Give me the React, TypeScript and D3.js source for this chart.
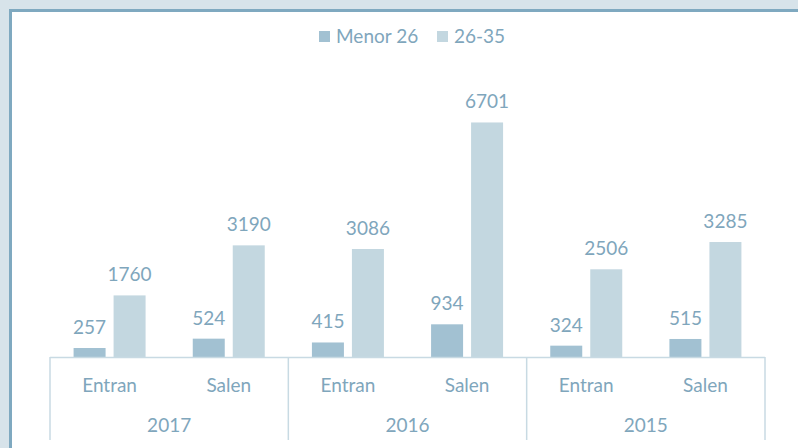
import { useEffect, useRef } from "react";
import * as d3 from "d3";

const years = ["2017", "2016", "2015"];
const flows = ["Entran", "Salen"];
const seriesNames = ["Menor 26", "26-35"];
const menor26 = [257, 524, 415, 934, 324, 515];
const age26to35 = [1760, 3190, 3086, 6701, 2506, 3285];

export default function App() {
  const ref = useRef<SVGSVGElement>(null);

  useEffect(() => {
    if (!ref.current) return;
    const svg = d3.select(ref.current);
    svg.selectAll("*").remove();

    const width = 798;
    const height = 448;
    const font = "Lato, 'Open Sans', sans-serif";
    const fontSize = "19px";
    const textColor = "#7fa6bc";
    const lineColor = "#c8dae3";
    const colors = ["#a2c1d2", "#c3d7e0"];

    // frame
    svg.append("rect").attr("width", width).attr("height", height).attr("fill", "#d7e3ea");
    svg.append("rect").attr("x", 9).attr("y", 9).attr("width", width).attr("height", height).attr("fill", "#7fa9c0");
    svg.append("rect").attr("x", 12).attr("y", 12).attr("width", width).attr("height", height).attr("fill", "#fff");

    const cats = years.flatMap((yr) => flows.map((f) => `${yr}|${f}`));
    const data = cats.map((c, i) => ({ key: c, values: [menor26[i], age26to35[i]] }));

    const left = 50;
    const right = 765;
    const base = 357;

    const x = d3.scaleBand().domain(cats).range([left, right]).padding(0);
    const inner = (x.bandwidth() - 72) / 2;
    const xs = d3
      .scaleBand()
      .domain(seriesNames)
      .range([inner, x.bandwidth() - inner])
      .paddingInner(0.2);
    const y = d3.scaleLinear().domain([0, 8000]).range([base, 77]);

    const groups = svg
      .selectAll(".cat")
      .data(data)
      .join("g")
      .attr("transform", (d) => `translate(${x(d.key)},0)`);

    groups
      .selectAll("rect")
      .data((d) => d.values.map((v, i) => ({ v, s: seriesNames[i], i })))
      .join("rect")
      .attr("x", (d) => xs(d.s) || 0)
      .attr("y", (d) => y(d.v))
      .attr("width", xs.bandwidth())
      .attr("height", (d) => base - y(d.v))
      .attr("fill", (d) => colors[d.i]);

    groups
      .selectAll("text.val")
      .data((d) => d.values.map((v, i) => ({ v, s: seriesNames[i] })))
      .join("text")
      .attr("class", "val")
      .attr("x", (d) => (xs(d.s) || 0) + xs.bandwidth() / 2)
      .attr("y", (d) => y(d.v) - 14)
      .attr("text-anchor", "middle")
      .style("font-family", font)
      .style("font-size", fontSize)
      .attr("fill", textColor)
      .text((d) => d.v);

    // axis lines
    svg
      .append("line")
      .attr("x1", left)
      .attr("x2", right)
      .attr("y1", base + 0.5)
      .attr("y2", base + 0.5)
      .attr("stroke", lineColor)
      .attr("stroke-width", 1.5);

    const yearBand = d3.scaleBand().domain(years).range([left, right]);
    const seps = years.map((yr) => yearBand(yr) || 0).concat([right]);
    svg
      .selectAll(".sep")
      .data(seps)
      .join("line")
      .attr("x1", (d) => d)
      .attr("x2", (d) => d)
      .attr("y1", base)
      .attr("y2", 440)
      .attr("stroke", lineColor)
      .attr("stroke-width", 1.5);

    svg
      .selectAll(".flow")
      .data(cats)
      .join("text")
      .attr("x", (d) => (x(d) || 0) + x.bandwidth() / 2)
      .attr("y", 392)
      .attr("text-anchor", "middle")
      .style("font-family", font)
      .style("font-size", fontSize)
      .attr("fill", textColor)
      .text((d) => d.split("|")[1]);

    svg
      .selectAll(".year")
      .data(years)
      .join("text")
      .attr("x", (d) => (yearBand(d) || 0) + yearBand.bandwidth() / 2)
      .attr("y", 432)
      .attr("text-anchor", "middle")
      .style("font-family", font)
      .style("font-size", fontSize)
      .attr("fill", textColor)
      .text((d) => d);

    // legend
    const legendX = [319, 437];
    seriesNames.forEach((name, i) => {
      const g = svg.append("g").attr("transform", `translate(${legendX[i]},31)`);
      g.append("rect").attr("width", 11).attr("height", 11).attr("fill", colors[i]);
      g.append("text")
        .attr("x", 17)
        .attr("y", 11.5)
        .style("font-family", font)
        .style("font-size", fontSize)
        .attr("fill", textColor)
        .text(name);
    });
  }, []);

  return (
    <svg
      ref={ref}
      width={798}
      height={448}
      style={{ position: "absolute", left: 0, top: 0, display: "block" }}
    />
  );
}
